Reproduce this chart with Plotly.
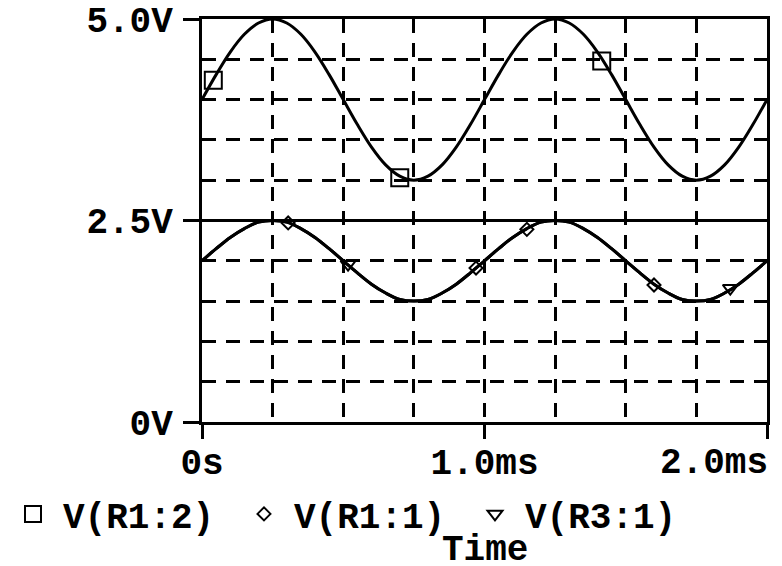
import plotly.graph_objects as go

# Time axis samples (ms)
time_ms = [0.00, 0.05, 0.10, 0.15, 0.20, 0.25, 0.30, 0.35, 0.40, 0.45,
           0.50, 0.55, 0.60, 0.65, 0.70, 0.75, 0.80, 0.85, 0.90, 0.95,
           1.00, 1.05, 1.10, 1.15, 1.20, 1.25, 1.30, 1.35, 1.40, 1.45,
           1.50, 1.55, 1.60, 1.65, 1.70, 1.75, 1.80, 1.85, 1.90, 1.95, 2.00]

# V(R1:2) (V)
v_r1_2 = [4.00, 4.31, 4.59, 4.81, 4.95, 5.00, 4.95, 4.81, 4.59, 4.31,
          4.00, 3.69, 3.41, 3.19, 3.05, 3.00, 3.05, 3.19, 3.41, 3.69,
          4.00, 4.31, 4.59, 4.81, 4.95, 5.00, 4.95, 4.81, 4.59, 4.31,
          4.00, 3.69, 3.41, 3.19, 3.05, 3.00, 3.05, 3.19, 3.41, 3.69, 4.00]

# V(R1:1) (V)
v_r1_1 = [2.00, 2.15, 2.29, 2.40, 2.48, 2.50, 2.48, 2.40, 2.29, 2.15,
          2.00, 1.85, 1.71, 1.60, 1.52, 1.50, 1.52, 1.60, 1.71, 1.85,
          2.00, 2.15, 2.29, 2.40, 2.48, 2.50, 2.48, 2.40, 2.29, 2.15,
          2.00, 1.85, 1.71, 1.60, 1.52, 1.50, 1.52, 1.60, 1.71, 1.85, 2.00]

# V(R3:1) (overlaps V(R1:1))
v_r3_1 = [2.00, 2.15, 2.29, 2.40, 2.48, 2.50, 2.48, 2.40, 2.29, 2.15,
          2.00, 1.85, 1.71, 1.60, 1.52, 1.50, 1.52, 1.60, 1.71, 1.85,
          2.00, 2.15, 2.29, 2.40, 2.48, 2.50, 2.48, 2.40, 2.29, 2.15,
          2.00, 1.85, 1.71, 1.60, 1.52, 1.50, 1.52, 1.60, 1.71, 1.85, 2.00]

# marker positions along the traces
mk_r1_2_t = [0.04, 0.70, 1.415]
mk_r1_2_v = [4.24, 3.03, 4.48]
mk_r1_1_t = [0.305, 0.97, 1.15, 1.60]
mk_r1_1_v = [2.47, 1.91, 2.39, 1.70]
mk_r3_1_t = [0.517, 1.87]
mk_r3_1_v = [1.96, 1.66]

series_names = ["V(R1:2)", "V(R1:1)", "V(R3:1)"]

x_tickvals = [0, 1.0, 2.0]
x_ticktext = ["0s", "1.0ms", ""]
x_last_label = "2.0ms"
x_title = "Time"
y_tickvals = [0, 2.5, 5.0]
y_ticktext = ["0V", "2.5V", "5.0V"]

FONT = "Liberation Mono"
FS = 36
BLACK = "#000000"
DASH = "14px,10px"

W, H = 782, 566
ML, MR, MT, MB = 202, 15, 19, 144
PW, PH = W - ML - MR, H - MT - MB


def px_x(p):
    return (p - ML) / PW


def px_y(p):
    return (H - MB - p) / PH


TXT = dict(family=FONT, size=FS, color=BLACK, weight="bold")

fig = go.Figure()

for vals in (v_r1_2, v_r1_1, v_r3_1):
    fig.add_trace(go.Scatter(x=time_ms, y=vals, mode="lines",
                             line=dict(color=BLACK, width=3, shape="spline"),
                             showlegend=False, hoverinfo="skip"))

markers = [(mk_r1_2_t, mk_r1_2_v, "square-open", 17),
           (mk_r1_1_t, mk_r1_1_v, "diamond-open", 10),
           (mk_r3_1_t, mk_r3_1_v, "triangle-down-open", 13)]
for name, (mt, mv, sym, sz) in zip(series_names, markers):
    fig.add_trace(go.Scatter(x=mt, y=mv, mode="markers", name=name,
                             marker=dict(symbol=sym, size=sz, color=BLACK,
                                         line=dict(color=BLACK, width=2))))

fig.update_layout(
    width=W, height=H,
    margin=dict(l=ML, r=MR, t=MT, b=MB, autoexpand=False),
    paper_bgcolor="white", plot_bgcolor="white",
    font=TXT,
    showlegend=True,
    legend=dict(orientation="h", xref="paper", yref="paper",
                x=px_x(3), xanchor="left", y=px_y(514), yanchor="middle",
                font=TXT,
                bgcolor="rgba(0,0,0,0)", itemsizing="trace", itemwidth=50,
                entrywidth=166, entrywidthmode="pixels", borderwidth=0),
    annotations=[
        dict(x=2.0, xref="x", y=px_y(463.5), yref="paper",
             text=x_last_label, showarrow=False, xanchor="right",
             yanchor="middle", xshift=3, font=TXT),
        dict(x=0.5, xref="paper", y=px_y(550), yref="paper",
             text=x_title, showarrow=False, xanchor="center",
             yanchor="middle", font=TXT),
    ],
)

fig.update_xaxes(
    range=[0, 2.0], tickvals=x_tickvals, ticktext=x_ticktext,
    showline=True, mirror=True, linecolor=BLACK, linewidth=3,
    ticks="outside", ticklen=14, tickwidth=3, tickcolor=BLACK,
    showgrid=True, gridcolor=BLACK, gridwidth=3, griddash=DASH,
    minor=dict(dtick=0.25, tick0=0, showgrid=True, gridcolor=BLACK,
               gridwidth=3, griddash=DASH, ticks=""),
    zeroline=False, ticklabelstandoff=-8, ticklabeloverflow="allow",
    automargin=False,
    tickfont=TXT,
)

fig.update_yaxes(
    range=[0, 5.0], tickvals=y_tickvals, ticktext=y_ticktext,
    showline=True, mirror=True, linecolor=BLACK, linewidth=3,
    ticks="outside", ticklen=16, tickwidth=3, tickcolor=BLACK,
    showgrid=True, gridcolor=BLACK, gridwidth=3, griddash="solid",
    minor=dict(dtick=0.5, tick0=0, showgrid=True, gridcolor=BLACK,
               gridwidth=3, griddash=DASH, ticks=""),
    zeroline=False, ticklabelstandoff=3, ticklabeloverflow="allow",
    automargin=False,
    tickfont=TXT,
)

fig.write_html("out.html",
               config={"displayModeBar": False},
               post_script="document.body.style.margin='0';"
                           "document.body.style.overflow='hidden';")
